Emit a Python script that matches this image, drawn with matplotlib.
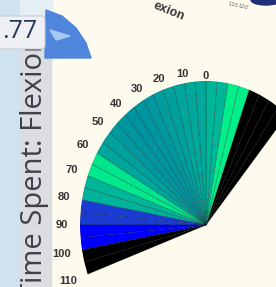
import numpy as np
import matplotlib.pyplot as plt
from matplotlib.colors import LinearSegmentedColormap
from matplotlib.patches import Rectangle, FancyBboxPatch, Polygon, Ellipse

# flexion angle bins (deg, start of each 5 deg bin) and share of time spent
binStart = np.arange(-40, 110, 5)
timeShare = [np.nan, np.nan, np.nan, np.nan,   # -40 .. -20  (no time)
             0.97, 0.97,                       # -20 .. -10
             0.70, 0.70,                       # -10 .. 0
             0.64, 0.63, 0.62, 0.60,           # 0 .. 20
             0.58, 0.56, 0.55, 0.54,           # 20 .. 40
             0.55, 0.56, 0.60, 0.62,           # 40 .. 60
             0.92, 0.94, 0.70, 0.68,           # 60 .. 80
             0.25, 0.25, 0.0, 0.0,             # 80 .. 100
             np.nan, np.nan]                   # 100 .. 110
tickAngles = list(range(0, 111, 10))

W, H = 276, 287
fig = plt.figure(figsize=(W / 100, H / 100), dpi=100)
fig.patch.set_facecolor('#fdfbee')

# background / surrounding app bits, in pixel coords
bg = fig.add_axes([0, 0, 1, 1])
bg.set_xlim(0, W)
bg.set_ylim(H, 0)
bg.axis('off')
bg.add_patch(Rectangle((0, 0), 20, H, color='#cfe2f0', zorder=1))
bg.add_patch(Rectangle((20, 0), 32, 45, color='#e4eef5', zorder=1))
panel = Rectangle((20, 50), 31, H, color='#dcdde1', zorder=1)
bg.add_patch(Rectangle((20, 45), 31, H, color='#dcdde1', zorder=1))
bg.add_patch(panel)
t = bg.text(35, 34, 'Time Spent: Flexion', rotation=90, ha='center', va='top',
            fontsize=21, family='Open Sans', color='#40404a', zorder=2)
t.set_clip_path(panel)
bg.add_patch(Polygon([(46, 10), (62, 16), (76, 28), (86, 43), (91, 58), (45, 58)],
                     closed=True, color='#4f86dc', zorder=2))
bg.add_patch(Polygon([(50, 30), (70, 36), (56, 40)], closed=True,
                     color='#a9c8f0', zorder=2))
bg.add_patch(FancyBboxPatch((-10, 16), 55, 33, boxstyle='round,pad=0,rounding_size=4',
                            facecolor='#eef0f4', edgecolor='#c8ccd6', lw=0.8, zorder=3))
bg.text(37, 32, '.77', ha='right', va='center', fontsize=18, family='Open Sans',
        color='#26375e', zorder=4)
bg.text(169, 11, 'exion', rotation=-22, ha='center', va='center', fontsize=9,
        fontweight='bold', family='Liberation Sans', color='#333333', zorder=2)
bg.add_patch(Ellipse((266, 0), 30, 10, color='#1f2f7a', zorder=2))
bg.text(233, 5, '110', rotation=-15, fontsize=4, color='#666666', ha='center', va='center')
bg.text(243, 7, '120', rotation=-15, fontsize=4, color='#666666', ha='center', va='center')

# fan chart: polar axes stretched to an ellipse
cx, cy, rx, ry = 206, 225, 126, 144
ax = fig.add_axes([(cx - rx) / W, (H - cy - ry) / H, 2 * rx / W, 2 * ry / H],
                  projection='polar')
ax.set_aspect('auto')
ax.set_theta_zero_location('N')
ax.set_theta_direction(1)
ax.set_ylim(0, 1)
ax.patch.set_alpha(0)

cmap = LinearSegmentedColormap.from_list(
    'flex', [(0, '#0000ff'), (0.25, '#1a3cd2'), (0.55, '#00969f'), (1, '#00f58a')])
vals = np.array(timeShare)
colors = cmap(np.nan_to_num(vals))
colors[np.isnan(vals)] = (0, 0, 0, 1)

ax.bar(np.deg2rad(binStart + 2.5), 1.0, width=np.deg2rad(5), bottom=0,
       color=colors, edgecolor=(0, 0, 0, 0.3), linewidth=0.5)

for a in tickAngles:
    r = np.deg2rad(a)
    off = (8 + 10 * np.sin(r) + 3 * (len(str(a)) - 2)) * 0.72
    ax.annotate(str(a), xy=(r, 1.0), xytext=(-off * np.sin(r), off * np.cos(r)),
                textcoords='offset points', ha='center', va='center',
                fontsize=8, fontweight='bold', family='Liberation Sans',
                color='#333333', annotation_clip=False)

ax.grid(False)
ax.set_xticks([])
ax.set_yticks([])
ax.spines['polar'].set_visible(False)

fig.savefig('out.png', dpi=100)
